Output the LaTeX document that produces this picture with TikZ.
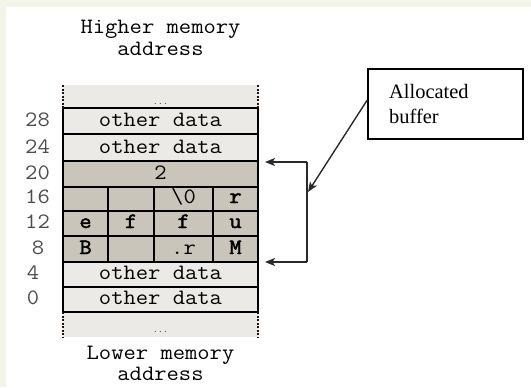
\documentclass[tikz,border=0pt]{standalone}
\usepackage{fontspec}
\setmainfont{Liberation Serif}
\setmonofont[FakeStretch=1.09]{Latin Modern Mono}
\newfontfamily\monoheavy[FakeStretch=1.09, FakeBold=2]{Latin Modern Mono}
\usetikzlibrary{arrows.meta}
\definecolor{cream}{HTML}{F4F5E9}
\definecolor{cellpale}{HTML}{ECEAE6}
\definecolor{celldark}{HTML}{C9C5BA}
\definecolor{ink}{HTML}{2A2A2A}

\tikzset{
  mono/.style={font=\fontsize{22}{22}\selectfont\ttfamily, inner sep=0pt, anchor=base},
  cellchar/.style={mono, font=\fontsize{22}{22}\selectfont\monoheavy},
  addr/.style={mono, text=black!70},
  gridline/.style={line width=1.8bp, black},
  sideline/.style={line width=2.6bp, black!85!brown, dash pattern=on 2bp off 1.5bp},
  conn/.style={line width=1.4bp, ink},
  tip/.style={-{Stealth[length=10bp,width=8bp,inset=2.5bp]}},
  note/.style={font=\fontsize{20.5}{25}\selectfont, align=left, inner sep=0pt},
  dots/.style={font=\fontsize{9}{9}\selectfont\ttfamily, inner sep=0pt, anchor=base, text=black!70},
}

\begin{document}
\begin{tikzpicture}[x=1bp,y=-1bp]
\useasboundingbox (0,0) rectangle (531,387);
\fill[cream] (0,0) rectangle (531,387);
\fill[white] (6,7) rectangle (531,387);

% headings
\node[mono] (hiA) at (160.5,33) {Higher memory};
\node[mono] (hiB) at (160.5,55) {address};
\node[mono] (loA) at (160.5,359) {Lower memory};
\node[mono] (loB) at (160.5,380) {address};

% cell fills
\fill[cellpale] (63,85) rectangle (258,108);
\fill[cellpale] (63,108) rectangle (258,161);
\fill[celldark] (63,161) rectangle (258,262);
\fill[cellpale] (63,262) rectangle (258,312);
\fill[cellpale] (63,312) rectangle (258,337);

% grid
\foreach \y in {108,134,161,187,211,236,262,287,312}
  \draw[gridline] (63,\y) -- (258,\y);
\draw[gridline] (63,108) -- (63,312);
\draw[gridline] (258,108) -- (258,312);
\foreach \x in {108,154,213}
  \draw[gridline] (\x,187) -- (\x,262);

% open ends of the memory column
\draw[sideline] (63,85) -- (63,108);
\draw[sideline] (258,85) -- (258,108);
\draw[sideline] (63,312) -- (63,337);
\draw[sideline] (258,312) -- (258,337);
\node[dots] (dotsT) at (160.5,104) {...};
\node[dots] (dotsB) at (160.5,332) {...};

% row contents
\node[mono] (r28) at (160.5,126) {other data};
\node[mono] (r24) at (160.5,153) {other data};
\node[mono] (r20) at (160.5,179) {2};
\node[mono] (c16c) at (183.5,203) {\textbackslash0};
\node[cellchar] (c16d) at (235.5,203) {r};
\node[cellchar] (c12a) at (85.5,228) {e};
\node[cellchar] (c12b) at (131,228) {f};
\node[cellchar] (c12c) at (183.5,228) {f};
\node[cellchar] (c12d) at (235.5,228) {u};
\node[cellchar] (c8a) at (85.5,254) {B};
\node[mono] (c8c) at (183.5,254) {.r};
\node[cellchar] (c8d) at (235.5,254) {M};
\node[mono] (r4) at (160.5,279) {other data};
\node[mono] (r0) at (160.5,304) {other data};

% addresses
\node[addr] (a28) at (37.5,126) {28};
\node[addr] (a24) at (37.5,153) {24};
\node[addr] (a20) at (37.5,179) {20};
\node[addr] (a16) at (37.5,203) {16};
\node[addr] (a12) at (37.5,228) {12};
\node[addr] (a8) at (38,254) {8};
\node[addr] (a4) at (33,279) {4};
\node[addr] (a0) at (33,304) {0};

% callout box
\node[draw=black, line width=1.4bp, minimum width=155bp, minimum height=70bp, inner sep=0pt] (buf) at (445.5,104) {};
\node[note, anchor=base west] (bufA) at (389,98) {Allocated};
\node[note, anchor=base west] (bufB) at (389,123) {buffer};

% bracket over the buffer
\coordinate (tipT) at (265,162);
\coordinate (tipB) at (265,262);
\coordinate (brT) at (307,162);
\coordinate (brB) at (307,262);
\coordinate (brM) at (308,192);
\draw[conn] (brT) -- (brB);
\draw[conn, tip] (brT) -- (tipT);
\draw[conn, tip] (brB) -- (tipB);
\draw[conn, tip] (buf.177) -- (brM);
\end{tikzpicture}
\end{document}
